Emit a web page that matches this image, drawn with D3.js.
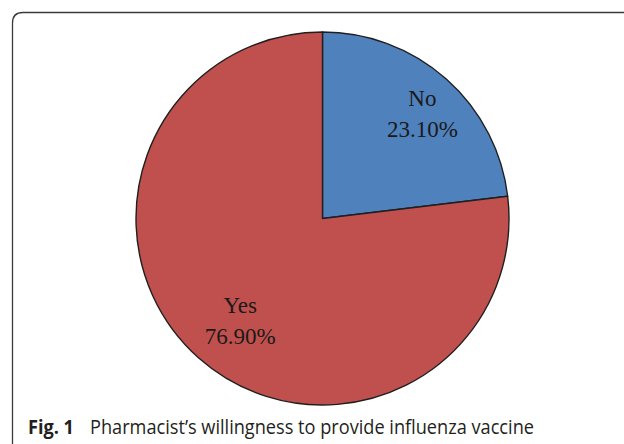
<!DOCTYPE html>
<html>
<head>
<meta charset="utf-8">
<script src="https://cdn.jsdelivr.net/npm/d3@7"></script>
<style>
  body { margin: 0; background: #fff; }
  svg { display: block; }
</style>
</head>
<body>
<svg id="pie"></svg>
<script>
var categories = ["No", "Yes"]
var values = [23.1, 76.9]
var valueLabels = ["23.10%", "76.90%"]
var colors = ["#4f81bd", "#c0504d"]
var captionBold = "Fig. 1"
var captionText = "Pharmacist\u2019s willingness to provide influenza vaccine"

var dimensions = {
    width: 624,
    height: 444,
    cx: 322.5,
    cy: 218.5,
    radius: 186.5
}

var svg = d3.select("#pie")
    .attr("width", dimensions.width)
    .attr("height", dimensions.height)

// frame with rounded top-left corner, runs off the right and bottom
svg.append("path")
    .attr("d", "M12.5,450 L12.5,23 Q12.5,12.5 23,12.5 L630,12.5")
    .attr("fill", "none")
    .attr("stroke", "#3a3a3a")
    .attr("stroke-width", 1.3)

var pie = d3.pie().sort(null).value(d => d)
var arcs = pie(values)

var arcGen = d3.arc().innerRadius(0).outerRadius(dimensions.radius)

var g = svg.append("g")
    .attr("transform", `translate(${dimensions.cx},${dimensions.cy})`)

g.selectAll("path")
    .data(arcs)
    .enter()
    .append("path")
    .attr("d", arcGen)
    .attr("fill", (d, i) => colors[i])
    .attr("stroke", "#1f1f1f")
    .attr("stroke-width", 1.4)
    .attr("stroke-linejoin", "round")

// labels sit along the middle angle of each slice, nudged a little like the original
var labelRadius = [146, 133]
var labelNudge = [[3, 4], [6, 2]]
var labels = g.selectAll("g.label")
    .data(arcs)
    .enter()
    .append("g")
    .attr("class", "label")
    .attr("transform", (d, i) => {
        var a = (d.startAngle + d.endAngle) / 2
        var x = Math.sin(a) * labelRadius[i] + labelNudge[i][0]
        var y = -Math.cos(a) * labelRadius[i] + labelNudge[i][1]
        return `translate(${x},${y})`
    })
    .style("font-family", "'Liberation Serif', 'Times New Roman', serif")
    .style("font-size", "23px")
    .attr("fill", "#1a1a1a")
    .attr("text-anchor", "middle")

labels.append("text")
    .attr("y", -7)
    .text((d, i) => categories[i])

labels.append("text")
    .attr("y", 24)
    .text((d, i) => valueLabels[i])

// caption
var cap = svg.append("text")
    .attr("x", 28)
    .attr("y", 434)
    .style("font-family", "'Open Sans', 'Noto Sans', sans-serif")
    .style("font-size", "20px")
    .attr("fill", "#231f20")

cap.append("tspan")
    .style("font-weight", "bold")
    .attr("textLength", 46)
    .attr("lengthAdjust", "spacingAndGlyphs")
    .text(captionBold)

cap.append("tspan")
    .attr("x", 90)
    .attr("textLength", 444)
    .attr("lengthAdjust", "spacingAndGlyphs")
    .text(captionText)
</script>
</body>
</html>
